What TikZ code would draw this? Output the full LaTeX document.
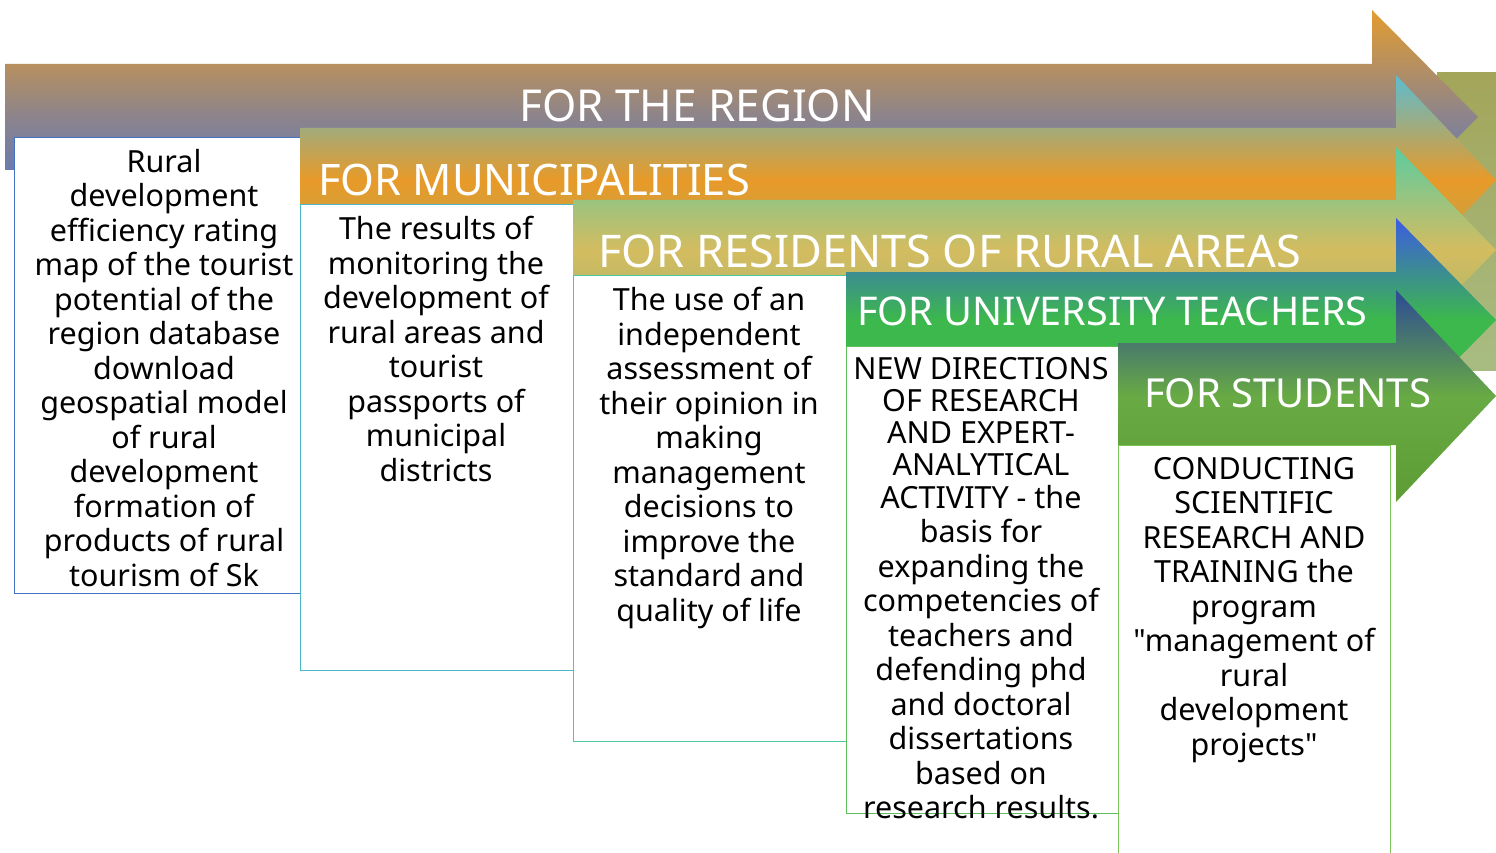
\documentclass[tikz,border=0pt]{standalone}
\usepackage{fontspec}
\setmainfont{Noto Sans}[Ligatures=TeXOff]
\definecolor{bA}{HTML}{4472C4}
\definecolor{bB}{HTML}{4BB8C8}
\definecolor{bC}{HTML}{4CC8A0}
\definecolor{bD}{HTML}{5CBF5C}
\definecolor{bE}{HTML}{7CC35A}
\begin{document}
\begin{tikzpicture}[x=1pt,y=-1pt,
  box/.style={draw, line width=1.3pt, fill=white, anchor=north west, inner sep=0pt},
  headtxt/.style={text=white, anchor=base west, inner sep=0pt, font=\fontsize{44}{50}\selectfont},
  bodytxt/.style={anchor=north, align=center, inner sep=0pt, font=\fontsize{30.5}{34.5}\selectfont}]
\useasboundingbox (0,0) rectangle (1496,853);
\clip (0,0) rectangle (1496,853);
% background behind arrow heads
\shade[top color={rgb,255:red,163;green,165;blue,90}, bottom color={rgb,255:red,168;green,188;blue,130}] (1437,73) rectangle (1496,370);
% arrow 1
\shade[top color={rgb,255:red,227;green,156;blue,48}, bottom color={rgb,255:red,74;green,112;blue,208}, middle color={rgb,255:red,140;green,132;blue,140}]
 (5,64) -- (1372,64) -- (1372,10) -- (1478,117) -- (1372,224) -- (1372,170) -- (5,170) -- cycle;
\node[box, draw=bA, minimum width=286pt, minimum height=456pt] (b1) at (14,137) {};
\node[headtxt] (h1) at (519,122) {FOR THE REGION};
% arrow 2
\shade[top color={rgb,255:red,92;green,188;blue,208}, bottom color={rgb,255:red,168;green,168;blue,96}, middle color={rgb,255:red,232;green,154;blue,40}]
 (300,128) -- (1396,128) -- (1396,75) -- (1496,180) -- (1396,285) -- (1396,232) -- (300,232) -- cycle;
\node[box, draw=bB, minimum width=273pt, minimum height=466pt] (b2) at (300,204) {};
\node[headtxt, font=\fontsize{43.4}{50}\selectfont] (h2) at (318,196) {FOR MUNICIPALITIES};
% arrow 3
\shade[top color={rgb,255:red,92;green,204;blue,160}, bottom color={rgb,255:red,152;green,180;blue,112}, middle color={rgb,255:red,212;green,188;blue,96}]
 (573,200) -- (1396,200) -- (1396,147) -- (1496,250) -- (1396,353) -- (1396,300) -- (573,300) -- cycle;
\node[box, draw=bC, minimum width=273pt, minimum height=466pt] (b3) at (573,275) {};
\node[headtxt, font=\fontsize{45}{50}\selectfont] (h3) at (598,267) {FOR RESIDENTS OF RURAL AREAS};
% arrow 4
\shade[top color={rgb,255:red,60;green,92;blue,224}, bottom color={rgb,255:red,60;green,184;blue,76}, middle color={rgb,255:red,60;green,184;blue,76}]
 (846,272) -- (1396,272) -- (1396,218) -- (1496,320) -- (1396,422) -- (1396,368) -- (846,368) -- cycle;
\node[box, draw=bD, minimum width=272pt, minimum height=467pt] (b4) at (846,346) {};
\node[headtxt, font=\fontsize{39.6}{44}\selectfont] (h4) at (857,325) {FOR UNIVERSITY TEACHERS};
% arrow 5
\shade[top color={rgb,255:red,44;green,74;blue,148}, bottom color={rgb,255:red,94;green,156;blue,52}, middle color={rgb,255:red,104;green,170;blue,68}]
 (1118,343) -- (1396,343) -- (1396,290) -- (1496,396) -- (1396,502) -- (1396,445) -- (1118,445) -- cycle;
\node[box, draw=bE, minimum width=272pt, minimum height=420pt] (b5) at (1118,445) {};
\node[headtxt, font=\fontsize{40}{44}\selectfont] (h5) at (1144,407) {FOR STUDENTS};
% texts
\node[bodytxt] (t1) at (164,149) {Rural\\development\\efficiency rating\\map of the tourist\\potential of the\\region database\\download\\geospatial model\\of rural\\development\\formation of\\products of rural\\tourism of Sk};
\node[bodytxt] (t2) at (436,216) {The results of\\monitoring the\\development of\\rural areas and\\tourist\\passports of\\municipal\\districts};
\node[bodytxt] (t3) at (709,287) {The use of an\\independent\\assessment of\\their opinion in\\making\\management\\decisions to\\improve the\\standard and\\quality of life};
\node[bodytxt] (t4) at (981,357) {NEW DIRECTIONS\\[-2.5pt]OF RESEARCH\\[-2.5pt]AND EXPERT-\\[-2.5pt]ANALYTICAL\\[-1.5pt]ACTIVITY - the\\basis for\\expanding the\\competencies of\\teachers and\\defending phd\\and doctoral\\dissertations\\based on\\research results.};
\node[bodytxt] (t5) at (1254,457) {CONDUCTING\\SCIENTIFIC\\RESEARCH AND\\TRAINING the\\program\\"management of\\rural\\development\\projects"};
\end{tikzpicture}
\end{document}
